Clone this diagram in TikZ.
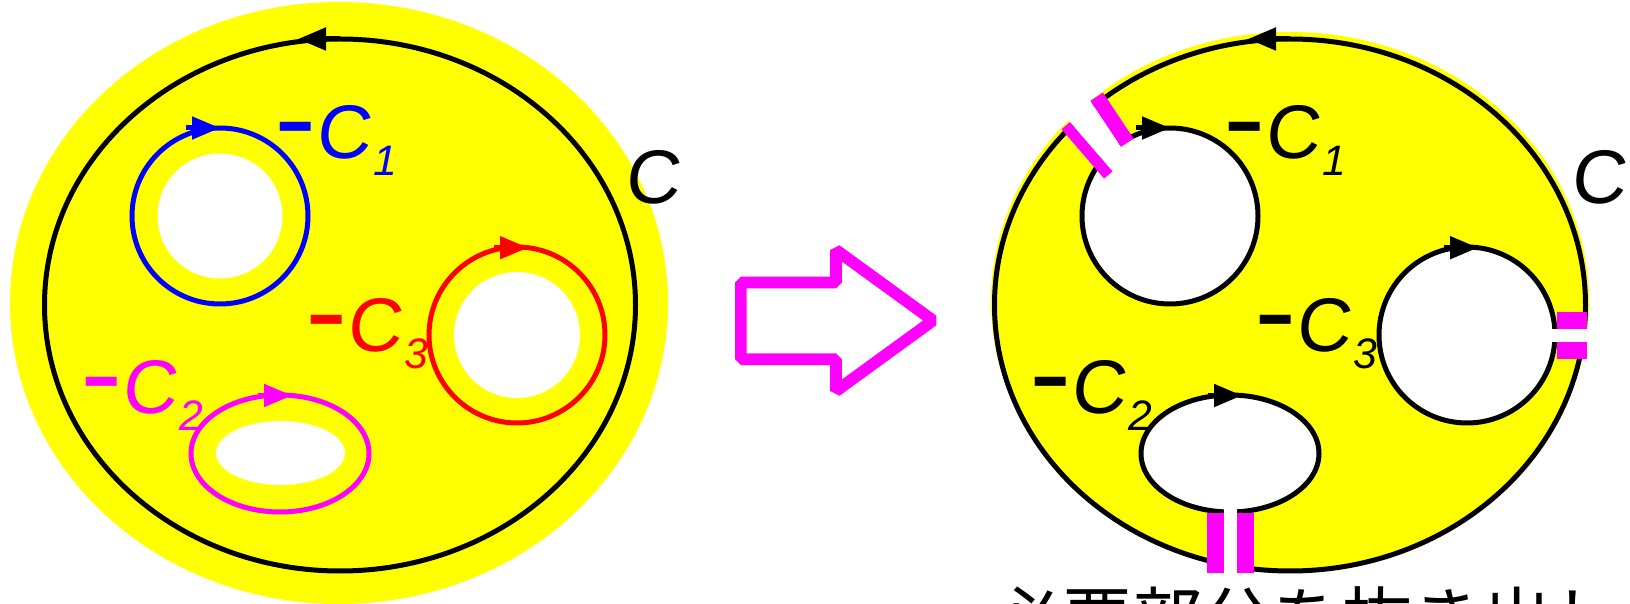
\documentclass[tikz,border=0pt]{standalone}
\usepackage{fontspec}
\setmainfont{Liberation Sans}
\newfontfamily\cfont[FakeSlant=0.1]{Liberation Sans}
\newfontfamily\jpfont{Noto Sans CJK JP}
\usetikzlibrary{arrows.meta}
\definecolor{pyellow}{RGB}{255,255,0}
\definecolor{pmag}{RGB}{255,0,255}
\definecolor{pblue}{RGB}{0,0,255}
\definecolor{pred}{RGB}{255,0,0}
\newcommand\labfont{\fontsize{38pt}{40pt}\selectfont}
\newcommand\mydash{\raisebox{6pt}{\scalebox{1.6}[1]{\bfseries -}}}
\newcommand\myC{{\cfont C}}
\newcommand\mysub[1]{\hspace{1.5pt}\raisebox{-8.25pt}{\fontsize{21.3pt}{22pt}\selectfont\itshape #1}}
\tikzset{
  contour/.style={line width=2.5pt},
  lab/.style={inner sep=0pt, anchor=base west, font=\labfont},
  tipr/.style={line width=2.5pt, -{Triangle[length=14pt,width=11pt]}},
  pinkbar/.style={fill=pmag},
  bigarrow/.style={draw=pmag, line width=5.85pt, line join=bevel},
}
\begin{document}
\begin{tikzpicture}[x=0.5pt,y=-0.5pt]
\useasboundingbox (0,0) rectangle (1630,604);
% ---------------- left diagram ----------------
\fill[pyellow] (339,303) ellipse [x radius=329, y radius=301];
\fill[white] (220,216) circle [radius=62.5];
\fill[white] (517,335) circle [radius=63];
\fill[white] (280.5,453) ellipse [x radius=64.5, y radius=32];
\draw[contour] (340,305) ellipse [x radius=295.5, y radius=266];
\draw[contour,pblue] (220,216) circle [radius=88];
\draw[contour,pred] (517,335) circle [radius=88];
\draw[contour,pmag] (280,453.5) ellipse [x radius=89, y radius=58.5];
\draw[tipr] (340,39) -- (298,39);
\draw[tipr,pblue] (186,128) -- (220,128);
\draw[tipr,pred] (494,247.7) -- (528,247.7);
\draw[tipr,pmag] (258,395.5) -- (292,395.5);
\node[lab,pblue] (lc1) at (274.7,159) {\mydash\myC\mysub{1}};
\node[lab,pred] (lc3) at (305.7,352) {\mydash\myC\mysub{3}};
\node[lab,pmag] (lc2) at (81,414) {\mydash\myC\mysub{2}};
\node[lab] (lc) at (624,204) {\myC};
% ---------------- big arrow ----------------
\draw[bigarrow] (740.85,282.5) -- (836,282.5) -- (836,250) -- (933,320.5)
   -- (836,391) -- (836,359.2) -- (740.85,359.2) -- cycle;
% ---------------- right diagram ----------------
\fill[pyellow] (1290,301) ellipse [x radius=299, y radius=269];
\fill[white] (1170,216) circle [radius=88];
\fill[white] (1467,335) circle [radius=88];
\fill[white] (1230,453.5) ellipse [x radius=89, y radius=58.5];
\draw[contour] (1290,305) ellipse [x radius=295.5, y radius=266];
\draw[contour] (1170,216) circle [radius=88];
\draw[contour] (1467,335) circle [radius=88];
\draw[contour] (1230,453.5) ellipse [x radius=89, y radius=58.5];
% cut channels
\fill[white] (1083.8,90.9) -- (1127.7,156.9) -- (1120.3,180.5) -- (1062,113) -- cycle;
\fill[white] (1540,329.3) rectangle (1605,341.7);
\fill[white] (1224.3,495) rectangle (1236.7,585);
% magenta bars
\draw[pmag, line width=7.5pt] (1096.7,96.7) -- (1127.3,142.7);
\draw[pmag, line width=5.5pt] (1065.7,125.7) -- (1108.3,175);
\fill[pinkbar] (1556.7,311.7) rectangle (1586.7,329.3);
\fill[pinkbar] (1556.7,341.7) rectangle (1586.7,359.3);
\fill[pinkbar] (1206.7,513.3) rectangle (1224.3,572.7);
\fill[pinkbar] (1236.7,513.3) rectangle (1254,572.7);
% arrows
\draw[tipr] (1290,39) -- (1248,39);
\draw[tipr] (1136,128) -- (1170,128);
\draw[tipr] (1444,247.7) -- (1478,247.7);
\draw[tipr] (1208,395.5) -- (1242,395.5);
% labels
\node[lab] (rc1) at (1223.7,159) {\mydash\myC\mysub{1}};
\node[lab] (rc3) at (1254.7,352) {\mydash\myC\mysub{3}};
\node[lab] (rc2) at (1030,414) {\mydash\myC\mysub{2}};
\node[lab] (rc) at (1570,204) {\myC};
\node[inner sep=0pt, anchor=base west, font=\jpfont\fontsize{35pt}{36pt}\selectfont] (jt) at (992,646) {必要部分を抜き出し};
\end{tikzpicture}
\end{document}
